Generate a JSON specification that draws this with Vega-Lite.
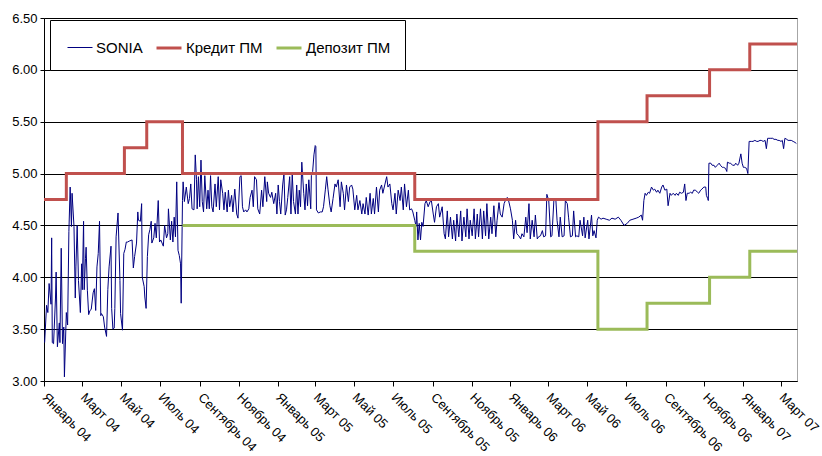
{
"$schema":"https://vega.github.io/schema/vega-lite/v6.json",
"width":753,"height":363,
"autosize":{"type":"none"},
"padding":{"left":44,"top":18,"right":25,"bottom":75},
"background":"white",
"config":{"font":"Liberation Sans","view":{"stroke":"#a6a6a6","strokeWidth":1},
"legend":{"orient":"none","legendX":6,"legendY":2,"direction":"horizontal","symbolType":"stroke","symbolSize":625,"symbolOffset":3,"labelFontSize":15,"labelFont":"Liberation Sans","labelColor":"black","labelOffset":3,"columnPadding":7,"padding":14,"strokeColor":"black","fillColor":"white","titleFontSize":0}},
"data":{"values":[
{"d":"2004-01-02","s":"SONIA","v":3.37},{"d":"2004-01-05","s":"SONIA","v":3.73},{"d":"2004-01-07","s":"SONIA","v":3.66},{"d":"2004-01-09","s":"SONIA","v":3.94},{"d":"2004-01-12","s":"SONIA","v":3.74},{"d":"2004-01-13","s":"SONIA","v":4.38},{"d":"2004-01-14","s":"SONIA","v":3.37},{"d":"2004-01-16","s":"SONIA","v":3.36},{"d":"2004-01-19","s":"SONIA","v":3.80},{"d":"2004-01-20","s":"SONIA","v":4.05},{"d":"2004-01-22","s":"SONIA","v":3.33},{"d":"2004-01-25","s":"SONIA","v":3.56},{"d":"2004-01-26","s":"SONIA","v":3.37},{"d":"2004-01-28","s":"SONIA","v":4.28},{"d":"2004-01-30","s":"SONIA","v":3.36},
{"d":"2004-02-01","s":"SONIA","v":3.52},{"d":"2004-02-02","s":"SONIA","v":3.04},{"d":"2004-02-05","s":"SONIA","v":3.66},{"d":"2004-02-07","s":"SONIA","v":3.54},{"d":"2004-02-09","s":"SONIA","v":4.44},{"d":"2004-02-11","s":"SONIA","v":4.87},{"d":"2004-02-13","s":"SONIA","v":4.49},{"d":"2004-02-14","s":"SONIA","v":4.81},{"d":"2004-02-17","s":"SONIA","v":4.49},{"d":"2004-02-19","s":"SONIA","v":3.80},{"d":"2004-02-20","s":"SONIA","v":4.10},{"d":"2004-02-22","s":"SONIA","v":4.50},{"d":"2004-02-24","s":"SONIA","v":3.97},{"d":"2004-02-27","s":"SONIA","v":3.66},{"d":"2004-02-29","s":"SONIA","v":4.13},
{"d":"2004-03-01","s":"SONIA","v":3.88},{"d":"2004-03-03","s":"SONIA","v":4.54},{"d":"2004-03-04","s":"SONIA","v":3.88},{"d":"2004-03-06","s":"SONIA","v":4.18},{"d":"2004-03-07","s":"SONIA","v":4.29},{"d":"2004-03-09","s":"SONIA","v":3.87},{"d":"2004-03-11","s":"SONIA","v":3.64},{"d":"2004-03-13","s":"SONIA","v":3.68},{"d":"2004-03-15","s":"SONIA","v":3.69},{"d":"2004-03-18","s":"SONIA","v":3.85},{"d":"2004-03-20","s":"SONIA","v":3.89},{"d":"2004-03-22","s":"SONIA","v":3.68},{"d":"2004-03-24","s":"SONIA","v":4.10},{"d":"2004-03-26","s":"SONIA","v":4.23},{"d":"2004-03-28","s":"SONIA","v":4.54},{"d":"2004-03-30","s":"SONIA","v":3.63},{"d":"2004-03-31","s":"SONIA","v":3.65},
{"d":"2004-04-03","s":"SONIA","v":3.62},{"d":"2004-04-05","s":"SONIA","v":3.52},{"d":"2004-04-08","s":"SONIA","v":3.43},{"d":"2004-04-10","s":"SONIA","v":3.88},{"d":"2004-04-12","s":"SONIA","v":4.10},{"d":"2004-04-15","s":"SONIA","v":4.30},{"d":"2004-04-16","s":"SONIA","v":3.70},{"d":"2004-04-18","s":"SONIA","v":3.50},{"d":"2004-04-20","s":"SONIA","v":3.51},{"d":"2004-04-21","s":"SONIA","v":3.70},{"d":"2004-04-23","s":"SONIA","v":4.39},{"d":"2004-04-26","s":"SONIA","v":4.62},{"d":"2004-04-29","s":"SONIA","v":3.97},{"d":"2004-04-30","s":"SONIA","v":3.65},
{"d":"2004-05-03","s":"SONIA","v":3.49},{"d":"2004-05-05","s":"SONIA","v":4.23},{"d":"2004-05-07","s":"SONIA","v":4.27},{"d":"2004-05-09","s":"SONIA","v":4.34},{"d":"2004-05-11","s":"SONIA","v":4.34},{"d":"2004-05-14","s":"SONIA","v":4.35},{"d":"2004-05-18","s":"SONIA","v":4.36},{"d":"2004-05-20","s":"SONIA","v":4.09},{"d":"2004-05-22","s":"SONIA","v":4.20},{"d":"2004-05-25","s":"SONIA","v":4.33},{"d":"2004-05-27","s":"SONIA","v":4.63},{"d":"2004-05-28","s":"SONIA","v":4.55},{"d":"2004-05-31","s":"SONIA","v":4.54},
{"d":"2004-06-02","s":"SONIA","v":4.71},{"d":"2004-06-03","s":"SONIA","v":4.00},{"d":"2004-06-06","s":"SONIA","v":3.91},{"d":"2004-06-07","s":"SONIA","v":3.81},{"d":"2004-06-09","s":"SONIA","v":3.70},{"d":"2004-06-11","s":"SONIA","v":4.20},{"d":"2004-06-13","s":"SONIA","v":4.41},{"d":"2004-06-15","s":"SONIA","v":4.46},{"d":"2004-06-17","s":"SONIA","v":4.54},{"d":"2004-06-18","s":"SONIA","v":4.33},{"d":"2004-06-21","s":"SONIA","v":4.38},{"d":"2004-06-23","s":"SONIA","v":4.52},{"d":"2004-06-25","s":"SONIA","v":4.38},{"d":"2004-06-28","s":"SONIA","v":4.74},{"d":"2004-06-30","s":"SONIA","v":4.34},
{"d":"2004-07-02","s":"SONIA","v":4.36},{"d":"2004-07-04","s":"SONIA","v":4.33},{"d":"2004-07-06","s":"SONIA","v":4.30},{"d":"2004-07-08","s":"SONIA","v":4.50},{"d":"2004-07-11","s":"SONIA","v":4.38},{"d":"2004-07-13","s":"SONIA","v":4.42},{"d":"2004-07-14","s":"SONIA","v":4.66},{"d":"2004-07-17","s":"SONIA","v":4.36},{"d":"2004-07-19","s":"SONIA","v":4.54},{"d":"2004-07-21","s":"SONIA","v":4.34},{"d":"2004-07-23","s":"SONIA","v":4.58},{"d":"2004-07-25","s":"SONIA","v":4.39},{"d":"2004-07-27","s":"SONIA","v":4.92},{"d":"2004-07-29","s":"SONIA","v":4.26},{"d":"2004-07-31","s":"SONIA","v":4.21},
{"d":"2004-08-02","s":"SONIA","v":4.13},{"d":"2004-08-03","s":"SONIA","v":3.75},{"d":"2004-08-05","s":"SONIA","v":4.74},{"d":"2004-08-06","s":"SONIA","v":4.92},{"d":"2004-08-08","s":"SONIA","v":4.73},{"d":"2004-08-11","s":"SONIA","v":4.87},{"d":"2004-08-14","s":"SONIA","v":4.71},{"d":"2004-08-16","s":"SONIA","v":4.76},{"d":"2004-08-18","s":"SONIA","v":4.90},{"d":"2004-08-20","s":"SONIA","v":4.66},{"d":"2004-08-23","s":"SONIA","v":4.65},{"d":"2004-08-25","s":"SONIA","v":5.18},{"d":"2004-08-27","s":"SONIA","v":4.94},{"d":"2004-08-28","s":"SONIA","v":4.66},{"d":"2004-08-30","s":"SONIA","v":4.97},
{"d":"2004-09-01","s":"SONIA","v":4.68},{"d":"2004-09-03","s":"SONIA","v":5.13},{"d":"2004-09-05","s":"SONIA","v":4.73},{"d":"2004-09-07","s":"SONIA","v":4.63},{"d":"2004-09-09","s":"SONIA","v":4.98},{"d":"2004-09-12","s":"SONIA","v":4.66},{"d":"2004-09-14","s":"SONIA","v":4.84},{"d":"2004-09-16","s":"SONIA","v":4.66},{"d":"2004-09-18","s":"SONIA","v":4.98},{"d":"2004-09-20","s":"SONIA","v":4.68},{"d":"2004-09-22","s":"SONIA","v":4.63},{"d":"2004-09-25","s":"SONIA","v":4.90},{"d":"2004-09-27","s":"SONIA","v":4.68},{"d":"2004-09-30","s":"SONIA","v":4.97},
{"d":"2004-10-02","s":"SONIA","v":4.65},{"d":"2004-10-04","s":"SONIA","v":4.94},{"d":"2004-10-07","s":"SONIA","v":4.81},{"d":"2004-10-09","s":"SONIA","v":4.65},{"d":"2004-10-11","s":"SONIA","v":4.82},{"d":"2004-10-14","s":"SONIA","v":4.63},{"d":"2004-10-16","s":"SONIA","v":4.84},{"d":"2004-10-18","s":"SONIA","v":4.68},{"d":"2004-10-21","s":"SONIA","v":4.79},{"d":"2004-10-23","s":"SONIA","v":4.63},{"d":"2004-10-26","s":"SONIA","v":4.85},{"d":"2004-10-29","s":"SONIA","v":4.61},{"d":"2004-10-31","s":"SONIA","v":4.57},
{"d":"2004-11-03","s":"SONIA","v":4.97},{"d":"2004-11-05","s":"SONIA","v":4.98},{"d":"2004-11-07","s":"SONIA","v":4.68},{"d":"2004-11-09","s":"SONIA","v":4.63},{"d":"2004-11-12","s":"SONIA","v":4.65},{"d":"2004-11-14","s":"SONIA","v":4.63},{"d":"2004-11-17","s":"SONIA","v":4.66},{"d":"2004-11-19","s":"SONIA","v":4.77},{"d":"2004-11-22","s":"SONIA","v":4.84},{"d":"2004-11-24","s":"SONIA","v":4.68},{"d":"2004-11-26","s":"SONIA","v":4.97},{"d":"2004-11-29","s":"SONIA","v":4.94},
{"d":"2004-12-01","s":"SONIA","v":4.66},{"d":"2004-12-04","s":"SONIA","v":4.61},{"d":"2004-12-07","s":"SONIA","v":4.84},{"d":"2004-12-09","s":"SONIA","v":4.68},{"d":"2004-12-12","s":"SONIA","v":4.97},{"d":"2004-12-15","s":"SONIA","v":4.73},{"d":"2004-12-16","s":"SONIA","v":4.92},{"d":"2004-12-18","s":"SONIA","v":4.81},{"d":"2004-12-21","s":"SONIA","v":4.77},{"d":"2004-12-23","s":"SONIA","v":4.82},{"d":"2004-12-26","s":"SONIA","v":4.71},{"d":"2004-12-29","s":"SONIA","v":4.81},{"d":"2004-12-31","s":"SONIA","v":4.61},
{"d":"2005-01-02","s":"SONIA","v":4.89},{"d":"2005-01-04","s":"SONIA","v":4.73},{"d":"2005-01-06","s":"SONIA","v":4.61},{"d":"2005-01-09","s":"SONIA","v":4.89},{"d":"2005-01-11","s":"SONIA","v":5.00},{"d":"2005-01-13","s":"SONIA","v":4.60},{"d":"2005-01-15","s":"SONIA","v":4.65},{"d":"2005-01-17","s":"SONIA","v":4.77},{"d":"2005-01-20","s":"SONIA","v":4.97},{"d":"2005-01-22","s":"SONIA","v":4.61},{"d":"2005-01-24","s":"SONIA","v":5.00},{"d":"2005-01-26","s":"SONIA","v":4.73},{"d":"2005-01-29","s":"SONIA","v":4.61},{"d":"2005-01-31","s":"SONIA","v":4.89},
{"d":"2005-02-02","s":"SONIA","v":4.61},{"d":"2005-02-04","s":"SONIA","v":4.84},{"d":"2005-02-06","s":"SONIA","v":4.68},{"d":"2005-02-08","s":"SONIA","v":5.11},{"d":"2005-02-11","s":"SONIA","v":4.81},{"d":"2005-02-13","s":"SONIA","v":4.65},{"d":"2005-02-15","s":"SONIA","v":4.90},{"d":"2005-02-17","s":"SONIA","v":4.69},{"d":"2005-02-19","s":"SONIA","v":4.94},{"d":"2005-02-22","s":"SONIA","v":4.66},{"d":"2005-02-23","s":"SONIA","v":4.98},{"d":"2005-02-25","s":"SONIA","v":5.02},{"d":"2005-02-27","s":"SONIA","v":5.18},
{"d":"2005-03-01","s":"SONIA","v":5.27},{"d":"2005-03-02","s":"SONIA","v":5.26},{"d":"2005-03-03","s":"SONIA","v":4.65},{"d":"2005-03-06","s":"SONIA","v":4.62},{"d":"2005-03-09","s":"SONIA","v":4.63},{"d":"2005-03-12","s":"SONIA","v":4.63},{"d":"2005-03-14","s":"SONIA","v":4.68},{"d":"2005-03-17","s":"SONIA","v":4.85},{"d":"2005-03-19","s":"SONIA","v":4.97},{"d":"2005-03-21","s":"SONIA","v":4.85},{"d":"2005-03-24","s":"SONIA","v":4.69},{"d":"2005-03-26","s":"SONIA","v":4.63},{"d":"2005-03-29","s":"SONIA","v":4.76},
{"d":"2005-04-01","s":"SONIA","v":4.90},{"d":"2005-04-03","s":"SONIA","v":4.87},{"d":"2005-04-06","s":"SONIA","v":4.94},{"d":"2005-04-09","s":"SONIA","v":4.68},{"d":"2005-04-11","s":"SONIA","v":4.92},{"d":"2005-04-14","s":"SONIA","v":4.81},{"d":"2005-04-16","s":"SONIA","v":4.65},{"d":"2005-04-19","s":"SONIA","v":4.89},{"d":"2005-04-22","s":"SONIA","v":4.73},{"d":"2005-04-24","s":"SONIA","v":4.87},{"d":"2005-04-27","s":"SONIA","v":4.89},{"d":"2005-04-29","s":"SONIA","v":4.85},
{"d":"2005-05-02","s":"SONIA","v":4.65},{"d":"2005-05-05","s":"SONIA","v":4.79},{"d":"2005-05-07","s":"SONIA","v":4.65},{"d":"2005-05-10","s":"SONIA","v":4.74},{"d":"2005-05-13","s":"SONIA","v":4.61},{"d":"2005-05-15","s":"SONIA","v":4.71},{"d":"2005-05-18","s":"SONIA","v":4.61},{"d":"2005-05-20","s":"SONIA","v":4.77},{"d":"2005-05-23","s":"SONIA","v":4.60},{"d":"2005-05-26","s":"SONIA","v":4.81},{"d":"2005-05-28","s":"SONIA","v":4.61},{"d":"2005-05-31","s":"SONIA","v":4.76},
{"d":"2005-06-02","s":"SONIA","v":4.61},{"d":"2005-06-05","s":"SONIA","v":4.87},{"d":"2005-06-08","s":"SONIA","v":4.63},{"d":"2005-06-10","s":"SONIA","v":4.84},{"d":"2005-06-13","s":"SONIA","v":4.89},{"d":"2005-06-15","s":"SONIA","v":4.81},{"d":"2005-06-18","s":"SONIA","v":4.89},{"d":"2005-06-21","s":"SONIA","v":4.97},{"d":"2005-06-23","s":"SONIA","v":4.87},{"d":"2005-06-26","s":"SONIA","v":4.90},{"d":"2005-06-29","s":"SONIA","v":4.71},
{"d":"2005-07-01","s":"SONIA","v":4.65},{"d":"2005-07-04","s":"SONIA","v":4.81},{"d":"2005-07-06","s":"SONIA","v":4.61},{"d":"2005-07-09","s":"SONIA","v":4.84},{"d":"2005-07-12","s":"SONIA","v":4.74},{"d":"2005-07-14","s":"SONIA","v":4.87},{"d":"2005-07-17","s":"SONIA","v":4.65},{"d":"2005-07-19","s":"SONIA","v":4.90},{"d":"2005-07-22","s":"SONIA","v":4.68},{"d":"2005-07-25","s":"SONIA","v":4.84},{"d":"2005-07-27","s":"SONIA","v":4.65},{"d":"2005-07-30","s":"SONIA","v":4.66},
{"d":"2005-08-01","s":"SONIA","v":4.63},{"d":"2005-08-04","s":"SONIA","v":4.55},{"d":"2005-08-06","s":"SONIA","v":4.49},{"d":"2005-08-07","s":"SONIA","v":4.63},{"d":"2005-08-09","s":"SONIA","v":4.36},{"d":"2005-08-11","s":"SONIA","v":4.52},{"d":"2005-08-13","s":"SONIA","v":4.36},{"d":"2005-08-15","s":"SONIA","v":4.53},{"d":"2005-08-17","s":"SONIA","v":4.49},{"d":"2005-08-20","s":"SONIA","v":4.71},{"d":"2005-08-22","s":"SONIA","v":4.74},{"d":"2005-08-25","s":"SONIA","v":4.68},{"d":"2005-08-28","s":"SONIA","v":4.73},{"d":"2005-08-30","s":"SONIA","v":4.74},
{"d":"2005-09-02","s":"SONIA","v":4.61},{"d":"2005-09-04","s":"SONIA","v":4.53},{"d":"2005-09-07","s":"SONIA","v":4.68},{"d":"2005-09-10","s":"SONIA","v":4.71},{"d":"2005-09-12","s":"SONIA","v":4.58},{"d":"2005-09-16","s":"SONIA","v":4.68},{"d":"2005-09-19","s":"SONIA","v":4.42},{"d":"2005-09-21","s":"SONIA","v":4.37},{"d":"2005-09-24","s":"SONIA","v":4.64},{"d":"2005-09-26","s":"SONIA","v":4.39},{"d":"2005-09-29","s":"SONIA","v":4.58},
{"d":"2005-10-02","s":"SONIA","v":4.37},{"d":"2005-10-04","s":"SONIA","v":4.55},{"d":"2005-10-07","s":"SONIA","v":4.35},{"d":"2005-10-09","s":"SONIA","v":4.61},{"d":"2005-10-12","s":"SONIA","v":4.39},{"d":"2005-10-15","s":"SONIA","v":4.64},{"d":"2005-10-17","s":"SONIA","v":4.35},{"d":"2005-10-20","s":"SONIA","v":4.58},{"d":"2005-10-23","s":"SONIA","v":4.39},{"d":"2005-10-25","s":"SONIA","v":4.66},{"d":"2005-10-28","s":"SONIA","v":4.37},{"d":"2005-10-30","s":"SONIA","v":4.55},
{"d":"2005-11-02","s":"SONIA","v":4.40},{"d":"2005-11-05","s":"SONIA","v":4.66},{"d":"2005-11-07","s":"SONIA","v":4.37},{"d":"2005-11-10","s":"SONIA","v":4.61},{"d":"2005-11-12","s":"SONIA","v":4.39},{"d":"2005-11-15","s":"SONIA","v":4.66},{"d":"2005-11-18","s":"SONIA","v":4.37},{"d":"2005-11-20","s":"SONIA","v":4.64},{"d":"2005-11-23","s":"SONIA","v":4.40},{"d":"2005-11-25","s":"SONIA","v":4.71},{"d":"2005-11-28","s":"SONIA","v":4.37},
{"d":"2005-12-01","s":"SONIA","v":4.58},{"d":"2005-12-03","s":"SONIA","v":4.42},{"d":"2005-12-06","s":"SONIA","v":4.69},{"d":"2005-12-09","s":"SONIA","v":4.39},{"d":"2005-12-11","s":"SONIA","v":4.55},{"d":"2005-12-14","s":"SONIA","v":4.72},{"d":"2005-12-16","s":"SONIA","v":4.61},{"d":"2005-12-19","s":"SONIA","v":4.58},{"d":"2005-12-22","s":"SONIA","v":4.71},{"d":"2005-12-24","s":"SONIA","v":4.74},{"d":"2005-12-27","s":"SONIA","v":4.77},{"d":"2005-12-29","s":"SONIA","v":4.74},
{"d":"2006-01-01","s":"SONIA","v":4.66},{"d":"2006-01-04","s":"SONIA","v":4.55},{"d":"2006-01-06","s":"SONIA","v":4.37},{"d":"2006-01-09","s":"SONIA","v":4.55},{"d":"2006-01-11","s":"SONIA","v":4.42},{"d":"2006-01-14","s":"SONIA","v":4.40},{"d":"2006-01-17","s":"SONIA","v":4.37},{"d":"2006-01-19","s":"SONIA","v":4.42},{"d":"2006-01-22","s":"SONIA","v":4.39},{"d":"2006-01-25","s":"SONIA","v":4.58},{"d":"2006-01-27","s":"SONIA","v":4.43},{"d":"2006-01-30","s":"SONIA","v":4.71},
{"d":"2006-02-01","s":"SONIA","v":4.37},{"d":"2006-02-04","s":"SONIA","v":4.55},{"d":"2006-02-07","s":"SONIA","v":4.39},{"d":"2006-02-09","s":"SONIA","v":4.60},{"d":"2006-02-12","s":"SONIA","v":4.37},{"d":"2006-02-14","s":"SONIA","v":4.39},{"d":"2006-02-17","s":"SONIA","v":4.40},{"d":"2006-02-20","s":"SONIA","v":4.45},{"d":"2006-02-22","s":"SONIA","v":4.39},{"d":"2006-02-25","s":"SONIA","v":4.40},{"d":"2006-02-27","s":"SONIA","v":4.80},
{"d":"2006-03-02","s":"SONIA","v":4.74},{"d":"2006-03-05","s":"SONIA","v":4.39},{"d":"2006-03-07","s":"SONIA","v":4.40},{"d":"2006-03-10","s":"SONIA","v":4.74},{"d":"2006-03-13","s":"SONIA","v":4.76},{"d":"2006-03-15","s":"SONIA","v":4.55},{"d":"2006-03-18","s":"SONIA","v":4.39},{"d":"2006-03-20","s":"SONIA","v":4.58},{"d":"2006-03-23","s":"SONIA","v":4.39},{"d":"2006-03-26","s":"SONIA","v":4.40},{"d":"2006-03-28","s":"SONIA","v":4.74},{"d":"2006-03-31","s":"SONIA","v":4.71},
{"d":"2006-04-02","s":"SONIA","v":4.58},{"d":"2006-04-05","s":"SONIA","v":4.39},{"d":"2006-04-08","s":"SONIA","v":4.40},{"d":"2006-04-10","s":"SONIA","v":4.64},{"d":"2006-04-13","s":"SONIA","v":4.39},{"d":"2006-04-15","s":"SONIA","v":4.40},{"d":"2006-04-18","s":"SONIA","v":4.39},{"d":"2006-04-20","s":"SONIA","v":4.55},{"d":"2006-04-24","s":"SONIA","v":4.40},{"d":"2006-04-26","s":"SONIA","v":4.58},{"d":"2006-04-28","s":"SONIA","v":4.38},
{"d":"2006-05-02","s":"SONIA","v":4.55},{"d":"2006-05-04","s":"SONIA","v":4.37},{"d":"2006-05-08","s":"SONIA","v":4.60},{"d":"2006-05-10","s":"SONIA","v":4.40},{"d":"2006-05-12","s":"SONIA","v":4.45},{"d":"2006-05-15","s":"SONIA","v":4.38},{"d":"2006-05-17","s":"SONIA","v":4.55},{"d":"2006-05-19","s":"SONIA","v":4.58},{"d":"2006-05-23","s":"SONIA","v":4.56},{"d":"2006-05-26","s":"SONIA","v":4.57},{"d":"2006-05-31","s":"SONIA","v":4.56},
{"d":"2006-06-05","s":"SONIA","v":4.55},{"d":"2006-06-09","s":"SONIA","v":4.57},{"d":"2006-06-14","s":"SONIA","v":4.56},{"d":"2006-06-19","s":"SONIA","v":4.58},{"d":"2006-06-23","s":"SONIA","v":4.55},{"d":"2006-06-28","s":"SONIA","v":4.50},{"d":"2006-07-03","s":"SONIA","v":4.52},{"d":"2006-07-07","s":"SONIA","v":4.55},{"d":"2006-07-12","s":"SONIA","v":4.56},{"d":"2006-07-17","s":"SONIA","v":4.57},{"d":"2006-07-21","s":"SONIA","v":4.58},{"d":"2006-07-25","s":"SONIA","v":4.60},
{"d":"2006-07-27","s":"SONIA","v":4.55},{"d":"2006-07-29","s":"SONIA","v":4.74},{"d":"2006-07-31","s":"SONIA","v":4.81},{"d":"2006-08-02","s":"SONIA","v":4.79},{"d":"2006-08-05","s":"SONIA","v":4.82},{"d":"2006-08-07","s":"SONIA","v":4.81},{"d":"2006-08-10","s":"SONIA","v":4.87},{"d":"2006-08-13","s":"SONIA","v":4.84},{"d":"2006-08-15","s":"SONIA","v":4.85},{"d":"2006-08-18","s":"SONIA","v":4.82},{"d":"2006-08-20","s":"SONIA","v":4.84},{"d":"2006-08-23","s":"SONIA","v":4.81},{"d":"2006-08-26","s":"SONIA","v":4.87},{"d":"2006-08-28","s":"SONIA","v":4.89},{"d":"2006-08-31","s":"SONIA","v":4.84},
{"d":"2006-09-03","s":"SONIA","v":4.85},{"d":"2006-09-05","s":"SONIA","v":4.69},{"d":"2006-09-08","s":"SONIA","v":4.81},{"d":"2006-09-10","s":"SONIA","v":4.79},{"d":"2006-09-13","s":"SONIA","v":4.81},{"d":"2006-09-16","s":"SONIA","v":4.79},{"d":"2006-09-18","s":"SONIA","v":4.81},{"d":"2006-09-21","s":"SONIA","v":4.79},{"d":"2006-09-23","s":"SONIA","v":4.82},{"d":"2006-09-26","s":"SONIA","v":4.81},{"d":"2006-09-29","s":"SONIA","v":4.82},
{"d":"2006-10-01","s":"SONIA","v":4.90},{"d":"2006-10-03","s":"SONIA","v":4.74},{"d":"2006-10-05","s":"SONIA","v":4.81},{"d":"2006-10-08","s":"SONIA","v":4.81},{"d":"2006-10-10","s":"SONIA","v":4.82},{"d":"2006-10-13","s":"SONIA","v":4.81},{"d":"2006-10-15","s":"SONIA","v":4.84},{"d":"2006-10-18","s":"SONIA","v":4.84},{"d":"2006-10-21","s":"SONIA","v":4.82},{"d":"2006-10-23","s":"SONIA","v":4.81},{"d":"2006-10-26","s":"SONIA","v":4.84},{"d":"2006-10-28","s":"SONIA","v":4.85},{"d":"2006-10-31","s":"SONIA","v":4.87},
{"d":"2006-11-03","s":"SONIA","v":4.87},{"d":"2006-11-04","s":"SONIA","v":4.79},{"d":"2006-11-06","s":"SONIA","v":4.76},{"d":"2006-11-07","s":"SONIA","v":4.74},{"d":"2006-11-08","s":"SONIA","v":5.10},{"d":"2006-11-11","s":"SONIA","v":5.10},{"d":"2006-11-13","s":"SONIA","v":5.08},{"d":"2006-11-16","s":"SONIA","v":5.08},{"d":"2006-11-18","s":"SONIA","v":5.06},{"d":"2006-11-21","s":"SONIA","v":5.08},{"d":"2006-11-24","s":"SONIA","v":5.10},{"d":"2006-11-26","s":"SONIA","v":5.08},{"d":"2006-11-29","s":"SONIA","v":5.06},
{"d":"2006-12-01","s":"SONIA","v":5.06},{"d":"2006-12-04","s":"SONIA","v":5.05},{"d":"2006-12-06","s":"SONIA","v":5.02},{"d":"2006-12-07","s":"SONIA","v":5.11},{"d":"2006-12-10","s":"SONIA","v":5.10},{"d":"2006-12-12","s":"SONIA","v":5.10},{"d":"2006-12-15","s":"SONIA","v":5.08},{"d":"2006-12-18","s":"SONIA","v":5.08},{"d":"2006-12-20","s":"SONIA","v":5.10},{"d":"2006-12-23","s":"SONIA","v":5.08},{"d":"2006-12-25","s":"SONIA","v":5.10},{"d":"2006-12-28","s":"SONIA","v":5.19},{"d":"2006-12-30","s":"SONIA","v":5.10},
{"d":"2007-01-01","s":"SONIA","v":5.06},{"d":"2007-01-03","s":"SONIA","v":5.06},{"d":"2007-01-06","s":"SONIA","v":5.05},{"d":"2007-01-08","s":"SONIA","v":5.00},{"d":"2007-01-10","s":"SONIA","v":5.31},{"d":"2007-01-14","s":"SONIA","v":5.31},{"d":"2007-01-16","s":"SONIA","v":5.31},{"d":"2007-01-19","s":"SONIA","v":5.32},{"d":"2007-01-22","s":"SONIA","v":5.31},{"d":"2007-01-24","s":"SONIA","v":5.31},{"d":"2007-01-27","s":"SONIA","v":5.32},{"d":"2007-01-29","s":"SONIA","v":5.32},
{"d":"2007-02-01","s":"SONIA","v":5.31},{"d":"2007-02-04","s":"SONIA","v":5.32},{"d":"2007-02-06","s":"SONIA","v":5.24},{"d":"2007-02-08","s":"SONIA","v":5.34},{"d":"2007-02-10","s":"SONIA","v":5.34},{"d":"2007-02-13","s":"SONIA","v":5.34},{"d":"2007-02-16","s":"SONIA","v":5.34},{"d":"2007-02-18","s":"SONIA","v":5.33},{"d":"2007-02-21","s":"SONIA","v":5.33},{"d":"2007-02-24","s":"SONIA","v":5.32},{"d":"2007-02-26","s":"SONIA","v":5.32},
{"d":"2007-03-01","s":"SONIA","v":5.31},{"d":"2007-03-03","s":"SONIA","v":5.32},{"d":"2007-03-05","s":"SONIA","v":5.24},{"d":"2007-03-07","s":"SONIA","v":5.34},{"d":"2007-03-10","s":"SONIA","v":5.33},{"d":"2007-03-12","s":"SONIA","v":5.32},{"d":"2007-03-15","s":"SONIA","v":5.32},{"d":"2007-03-17","s":"SONIA","v":5.32},{"d":"2007-03-20","s":"SONIA","v":5.31},{"d":"2007-03-23","s":"SONIA","v":5.30},{"d":"2007-03-25","s":"SONIA","v":5.29},
{"d":"2004-01-01","s":"Кредит ПМ","v":4.75},{"d":"2004-02-05","s":"Кредит ПМ","v":5.00},{"d":"2004-05-06","s":"Кредит ПМ","v":5.25},{"d":"2004-06-10","s":"Кредит ПМ","v":5.50},{"d":"2004-08-05","s":"Кредит ПМ","v":5.00},{"d":"2005-08-04","s":"Кредит ПМ","v":4.75},{"d":"2006-05-18","s":"Кредит ПМ","v":5.50},{"d":"2006-08-03","s":"Кредит ПМ","v":5.75},{"d":"2006-11-09","s":"Кредит ПМ","v":6.00},{"d":"2007-01-11","s":"Кредит ПМ","v":6.25},{"d":"2007-03-26","s":"Кредит ПМ","v":6.25},
{"d":"2004-08-05","s":"Депозит ПМ","v":4.50},{"d":"2005-08-04","s":"Депозит ПМ","v":4.25},{"d":"2006-05-18","s":"Депозит ПМ","v":3.50},{"d":"2006-08-03","s":"Депозит ПМ","v":3.75},{"d":"2006-11-09","s":"Депозит ПМ","v":4.00},{"d":"2007-01-11","s":"Депозит ПМ","v":4.25},{"d":"2007-03-26","s":"Депозит ПМ","v":4.25}
]},
"encoding":{
"x":{"field":"d","type":"temporal","scale":{"type":"utc","domain":[{"year":2004,"month":1,"date":1,"utc":true},{"year":2007,"month":3,"date":26,"utc":true}]},
"axis":{"title":null,"tickCount":{"interval":"month","step":2},"labelExpr":"['Январь','Февраль','Март','Апрель','Май','Июнь','Июль','Август','Сентябрь','Октябрь','Ноябрь','Декабрь'][utcmonth(datum.value)] + ' ' + utcFormat(datum.value, '%y')","labelAngle":45,"labelAlign":"left","labelBaseline":"middle","labelFontSize":13,"labelColor":"black","domainColor":"black","tickColor":"black","tickSize":5,"labelPadding":9,"grid":false,"labelOverlap":false,"labelBound":false,"labelFlush":false}},
"y":{"field":"v","type":"quantitative","scale":{"domain":[3,6.5],"zero":false,"nice":false},
"axis":{"title":null,"values":[3,3.5,4,4.5,5,5.5,6,6.5],"format":".2f","labelFontSize":13,"labelColor":"black","domainColor":"black","tickColor":"black","tickSize":4,"labelPadding":3,"grid":true,"gridColor":"black","gridOpacity":1,"gridWidth":1}},
"color":{"field":"s","type":"nominal","scale":{"domain":["SONIA","Кредит ПМ","Депозит ПМ"],"range":["#000080","#C0504D","#9BBB59"]},"legend":{"title":null}},
"strokeWidth":{"field":"s","type":"nominal","scale":{"type":"ordinal","domain":["SONIA","Кредит ПМ","Депозит ПМ"],"range":[1,3,3]},"legend":{"title":null}}
},
"layer":[
{"transform":[{"filter":"datum.s === 'SONIA'"}],"mark":{"type":"line","interpolate":"linear"}},
{"transform":[{"filter":"datum.s !== 'SONIA'"}],"mark":{"type":"line","interpolate":"step-after"}}
]
}
